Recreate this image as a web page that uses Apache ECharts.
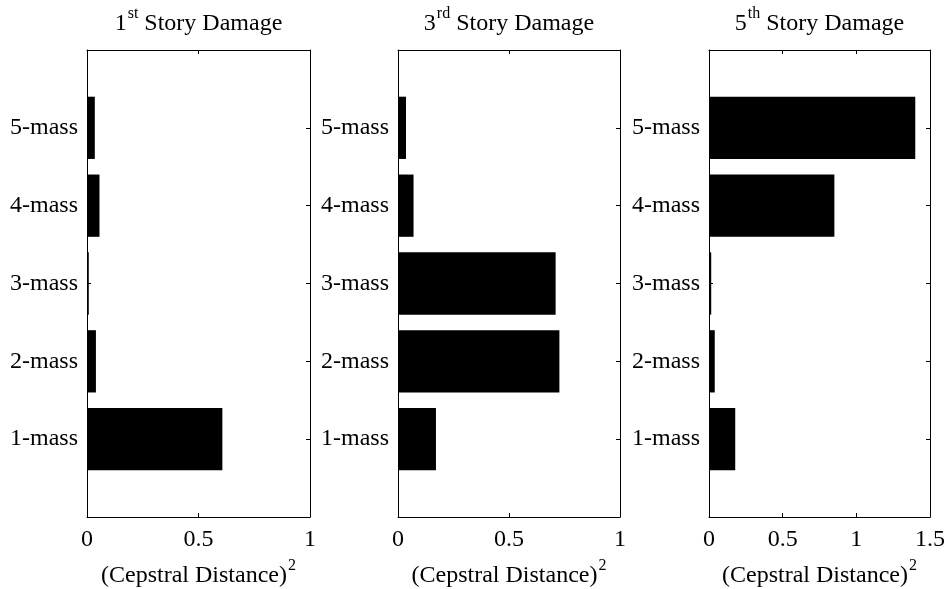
<!DOCTYPE html>
<html>
<head>
<meta charset="utf-8">
<script src="https://cdn.jsdelivr.net/npm/echarts@6/dist/echarts.min.js"></script>
<style>html,body{margin:0;padding:0;background:#fff;}#c{width:949px;height:589px;}</style>
</head>
<body>
<div id="c"></div>
<script>
const categories = ['1-mass', '2-mass', '3-mass', '4-mass', '5-mass'];
const story1 = [0.607, 0.040, 0.008, 0.056, 0.035];
const story3 = [0.171, 0.727, 0.710, 0.070, 0.036];
const story5 = [0.178, 0.039, 0.015, 0.851, 1.400];
const titles = [['1', 'st'], ['3', 'rd'], ['5', 'th']];
const xMax = [1, 1, 1.5];
const xInterval = 0.5;
const xLabel = ['(Cepstral Distance)', '2'];

const FONT = '"Liberation Serif", "Times New Roman", serif';
const axisCats = [''].concat(categories, ['']);
const seriesData = [story1, story3, story5];

const grids = [
  {left: 87, top: 50, width: 223, height: 467, outerBoundsMode: 'none', containLabel: false},
  {left: 398, top: 50, width: 222, height: 467, outerBoundsMode: 'none', containLabel: false},
  {left: 709, top: 50, width: 221, height: 467, outerBoundsMode: 'none', containLabel: false}
];

const lineStyle = {color: '#000', width: 1};
const xAxes = [], yAxes = [], series = [];
const richBase = {
  b: {fontSize: 24, fontFamily: FONT, color: '#000', lineHeight: 30, verticalAlign: 'bottom'},
  sup: {fontSize: 16, fontFamily: FONT, color: '#000', lineHeight: 16, verticalAlign: 'top', padding: [0, 0, 0, 1]}
};
for (let i = 0; i < 3; i++) {
  xAxes.push({
    type: 'value', gridIndex: i, position: 'bottom', min: 0, max: xMax[i], interval: xInterval,
    axisLine: {show: true, onZero: false, lineStyle},
    axisTick: {show: true, inside: true, length: 4, lineStyle},
    splitLine: {show: false},
    axisLabel: {show: true, margin: 11, fontSize: 24, fontFamily: FONT, color: '#000'},
    name: '{b|' + xLabel[0] + '}{sup|' + xLabel[1] + '}',
    nameLocation: 'middle', nameGap: 41,
    nameTextStyle: {rich: richBase}
  });
  xAxes.push({
    type: 'value', gridIndex: i, position: 'top', min: 0, max: xMax[i], interval: xInterval,
    axisLine: {show: true, onZero: false, lineStyle},
    axisTick: {show: true, inside: true, length: 4, lineStyle},
    splitLine: {show: false},
    axisLabel: {show: false},
    name: '{b|' + titles[i][0] + '}{sup|' + titles[i][1] + '}{b| Story Damage}',
    nameLocation: 'middle', nameGap: 14,
    nameTextStyle: {rich: richBase}
  });
  yAxes.push({
    type: 'category', gridIndex: i, position: 'left', data: axisCats, boundaryGap: false,
    axisLine: {show: true, onZero: false, lineStyle},
    axisTick: {show: true, inside: true, length: 4, lineStyle, interval: (idx) => idx > 0 && idx < axisCats.length - 1},
    axisLabel: {show: true, margin: 9, fontSize: 24, fontFamily: FONT, color: '#000', interval: 0},
    splitLine: {show: false}
  });
  yAxes.push({
    type: 'category', gridIndex: i, position: 'right', data: axisCats, boundaryGap: false,
    axisLine: {show: true, onZero: false, lineStyle},
    axisTick: {show: true, inside: true, length: 4, lineStyle, interval: (idx) => idx > 0 && idx < axisCats.length - 1},
    axisLabel: {show: false},
    splitLine: {show: false}
  });
  series.push({
    type: 'bar', xAxisIndex: i * 2, yAxisIndex: i * 2,
    data: [null].concat(seriesData[i], [null]),
    barWidth: '80%',
    itemStyle: {color: '#000'},
    silent: true,
    animation: false
  });
}

const chart = echarts.init(document.getElementById('c'), null, {renderer: 'canvas'});
chart.setOption({
  animation: false,
  backgroundColor: '#fff',
  grid: grids,
  xAxis: xAxes,
  yAxis: yAxes,
  series: series
});
</script>
</body>
</html>
